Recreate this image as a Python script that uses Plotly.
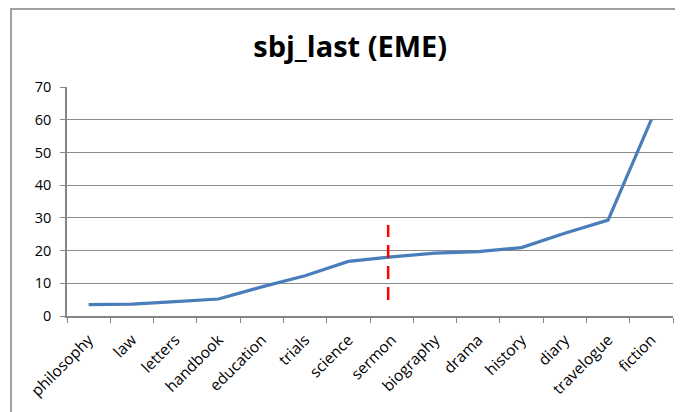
import plotly.graph_objects as go

categories = ["philosophy", "law", "letters", "handbook", "education", "trials", "science",
              "sermon", "biography", "drama", "history", "diary", "travelogue", "fiction"]
values = [3.45, 3.6, 4.4, 5.2, 8.9, 12.3, 16.7, 18.1, 19.2, 19.7, 20.9, 25.3, 29.3, 60.0]
y_ticks = [0, 10, 20, 30, 40, 50, 60, 70]
marker_category_pos = 6.92
marker_range = [4.9, 27.8]
title_text = "sbj_last (EME)"

fig = go.Figure()
fig.add_trace(go.Scatter(x=categories, y=values, mode="lines",
                         line=dict(color="#4a7ebb", width=3.2), showlegend=False,
                         hoverinfo="x+y"))

fig.add_shape(type="line", xref="x", yref="y",
              x0=marker_category_pos, x1=marker_category_pos,
              y0=marker_range[0], y1=marker_range[1],
              line=dict(color="#ff0000", width=2.5, dash="13px,8px"))

# outer chart border
fig.add_shape(type="rect", xref="paper", yref="paper",
              x0=-0.0924, x1=1.05, y0=-0.5, y1=1.341,
              line=dict(color="#a0a0a0", width=2), fillcolor="rgba(0,0,0,0)", layer="below")

fig.update_layout(
    width=675, height=404,
    margin=dict(l=59, r=10, t=79, b=96, autoexpand=False),
    paper_bgcolor="white", plot_bgcolor="white",
    title=dict(text="<b>" + title_text + "</b>", x=0.507, xanchor="center", y=0.905, yanchor="middle",
               xref="container", yref="container",
               font=dict(family="Open Sans", size=29, color="black")),
    font=dict(family="Open Sans", size=13, color="black"),
)
fig.update_xaxes(type="category", showgrid=False, showline=True, linecolor="#868686", linewidth=1.5,
                 ticks="outside", tickson="boundaries", ticklen=5, tickcolor="#868686",
                 tickangle=-45, tickfont=dict(size=15.5), range=[-0.5, 13.5], fixedrange=True,
                 automargin=False, ticklabelstandoff=7)
fig.update_yaxes(range=[0, 70], tickvals=y_ticks, showgrid=True, gridcolor="#8c8c8c", gridwidth=1,
                 showline=True, linecolor="#868686", linewidth=1.5, ticks="outside", ticklen=5,
                 tickcolor="#868686", tickfont=dict(size=14.5), zeroline=False, fixedrange=True,
                 automargin=False, ticklabelstandoff=6)

fig.write_html("out.html")
